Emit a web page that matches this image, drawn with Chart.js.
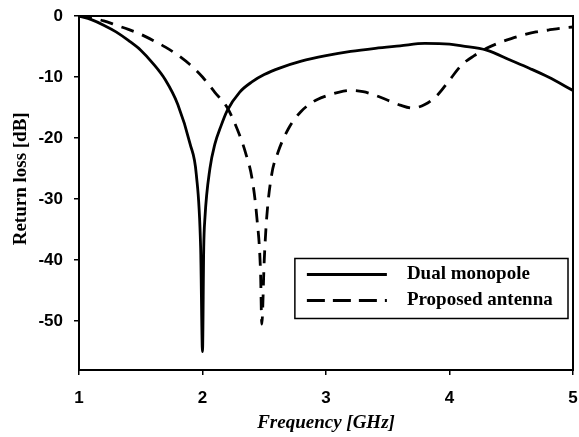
<!DOCTYPE html>
<html>
<head>
<meta charset="utf-8">
<script src="https://cdn.jsdelivr.net/npm/chart.js@4"></script>
<style>
  html, body { margin: 0; padding: 0; background: #fff; }
  #wrap { width: 579px; height: 437px; }
</style>
</head>
<body>
<div id="wrap"><canvas id="chart" width="579" height="437"></canvas></div>
<script>
// Frequency [GHz] and return loss [dB]
const dualFreq = [1.0, 1.1, 1.2, 1.3, 1.4, 1.5, 1.6, 1.7, 1.8, 1.9, 1.95, 1.985, 2.0, 2.01, 2.02, 2.06, 2.1, 2.15, 2.2, 2.3, 2.4, 2.5, 2.63, 2.8, 3.0, 3.2, 3.4, 3.6, 3.8, 4.0, 4.1, 4.3, 4.5, 4.65, 4.8, 5.0];
const dualLoss = [0, -0.6, -1.5, -2.6, -4.0, -5.6, -7.8, -10.5, -14.5, -21, -26, -38, -55, -38, -33, -25, -21, -18, -15.5, -12.5, -10.8, -9.6, -8.5, -7.4, -6.5, -5.8, -5.3, -4.9, -4.5, -4.6, -4.9, -5.6, -7.3, -8.6, -10, -12.2];

const propFreq = [1.0, 1.1, 1.2, 1.3, 1.4, 1.5, 1.6, 1.7, 1.8, 1.9, 2.0, 2.1, 2.2, 2.3, 2.35, 2.4, 2.44, 2.47, 2.48, 2.5, 2.52, 2.56, 2.61, 2.7, 2.8, 2.9, 3.0, 3.1, 3.2, 3.3, 3.4, 3.5, 3.6, 3.7, 3.8, 3.9, 4.0, 4.1, 4.2, 4.3, 4.4, 4.5, 4.6, 4.7, 4.8, 4.9, 5.0];
const propLoss = [0, -0.3, -0.8, -1.5, -2.2, -3.0, -4.0, -5.1, -6.4, -8.0, -10, -12.5, -15, -19.5, -22.5, -26.5, -33, -42, -50.5, -40, -33, -26, -22.4, -18.3, -15.6, -14, -13.1, -12.5, -12.2, -12.4, -13.0, -13.8, -14.6, -15.1, -14.5, -13, -10.5, -8.0, -6.5, -5.3, -4.4, -3.7, -3.1, -2.6, -2.3, -2.0, -1.8];

const xTicks = [1, 2, 3, 4, 5];
const yTicks = [0, -10, -20, -30, -40, -50];
const seriesNames = ['Dual monopole', 'Proposed antenna'];
const yTitle = 'Return loss [dB]';

function toPoints(xs, ys) {
  return xs.map((x, i) => ({ x: x, y: ys[i] }));
}

const serif = '"Liberation Serif", "DejaVu Serif", serif';

// frame round the plot, y title and the boxed legend
const framePlugin = {
  id: 'frame',
  afterDatasetsDraw(chart) {
    const ctx = chart.ctx;
    const a = chart.chartArea;
    ctx.save();
    ctx.strokeStyle = '#000';
    ctx.lineWidth = 2;
    ctx.strokeRect(a.left, a.top, a.right - a.left, a.bottom - a.top);

    // y axis title, sitting a little above the middle as in the picture
    ctx.save();
    ctx.translate(a.left - 58, a.top + 0.46 * (a.bottom - a.top));
    ctx.rotate(-Math.PI / 2);
    ctx.font = 'bold 19px ' + serif;
    ctx.textAlign = 'center';
    ctx.textBaseline = 'middle';
    ctx.fillStyle = '#000';
    ctx.fillText(yTitle, 0, 0);
    ctx.restore();

    // legend box, placed relative to the plot area
    const bx = a.left + 0.437 * (a.right - a.left);
    const by = a.top + 0.685 * (a.bottom - a.top);
    const bw = a.right - 5 - bx;
    const bh = 60;
    ctx.fillStyle = '#fff';
    ctx.fillRect(bx, by, bw, bh);
    ctx.lineWidth = 1.5;
    ctx.strokeRect(bx, by, bw, bh);

    ctx.font = 'bold 19px ' + serif;
    ctx.textBaseline = 'middle';
    ctx.fillStyle = '#000';
    chart.data.datasets.forEach((ds, i) => {
      const y = by + 16 + i * 26;
      ctx.beginPath();
      ctx.lineWidth = ds.borderWidth;
      ctx.setLineDash(ds.borderDash ? [18, 8] : []);
      ctx.moveTo(bx + 12, y);
      ctx.lineTo(bx + 92, y);
      ctx.stroke();
      ctx.setLineDash([]);
      ctx.fillText(ds.label, bx + 112, y);
    });
    ctx.restore();
  }
};

const ctx = document.getElementById('chart').getContext('2d');
new Chart(ctx, {
  type: 'line',
  data: {
    datasets: [{
      label: seriesNames[0],
      data: toPoints(dualFreq, dualLoss),
      borderColor: '#000',
      borderWidth: 2.8,
      pointRadius: 0,
      cubicInterpolationMode: 'monotone',
      fill: false
    }, {
      label: seriesNames[1],
      data: toPoints(propFreq, propLoss),
      borderColor: '#000',
      borderWidth: 2.8,
      borderDash: [13, 9],
      pointRadius: 0,
      cubicInterpolationMode: 'monotone',
      fill: false
    }]
  },
  options: {
    responsive: false,
    animation: false,
    layout: { padding: { top: 16, right: 6, left: 0, bottom: 0 } },
    plugins: {
      legend: { display: false },
      tooltip: { enabled: false }
    },
    scales: {
      x: {
        type: 'linear',
        min: 1,
        max: 5,
        afterBuildTicks: axis => { axis.ticks = xTicks.map(v => ({ value: v })); },
        afterFit: axis => {
          axis.height = 67;
          axis.paddingLeft = 0;
          axis.paddingRight = 0;
        },
        grid: { drawOnChartArea: false, tickLength: 5, color: '#000', lineWidth: 1.5 },
        border: { display: true, color: '#000', width: 2 },
        ticks: {
          color: '#000',
          padding: 13,
          font: { family: '"Liberation Sans", Arial, sans-serif', size: 17, weight: 'bold' }
        },
        title: {
          display: true,
          text: 'Frequency [GHz]',
          color: '#000',
          padding: { top: 2, bottom: 3 },
          font: { family: serif, size: 19, weight: 'bold', style: 'italic' }
        }
      },
      y: {
        min: -58,
        max: 0,
        afterBuildTicks: axis => { axis.ticks = yTicks.map(v => ({ value: v })); },
        afterFit: axis => {
          axis.width = 79;
          axis.paddingTop = 0;
          axis.paddingBottom = 0;
        },
        grid: { drawOnChartArea: false, tickLength: 5, color: '#000', lineWidth: 1.5 },
        border: { display: true, color: '#000', width: 2 },
        ticks: {
          color: '#000',
          padding: 11,
          font: { family: '"Liberation Sans", Arial, sans-serif', size: 17, weight: 'bold' }
        }
      }
    }
  },
  plugins: [framePlugin]
});
</script>
</body>
</html>
